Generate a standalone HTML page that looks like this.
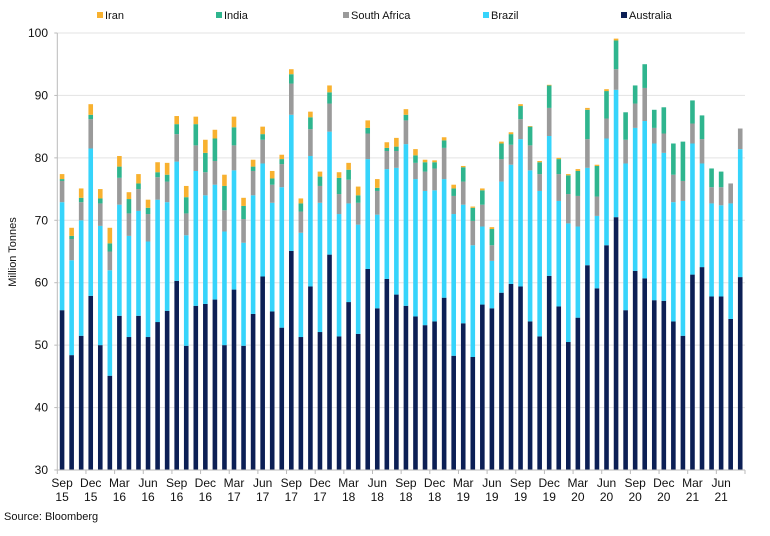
<!DOCTYPE html>
<html><head><meta charset="utf-8"><style>
body{margin:0;background:#fff;font-family:"Liberation Sans",Arial,sans-serif;}
svg text{font-family:"Liberation Sans",Arial,sans-serif;fill:#111;}
</style></head><body>
<svg id="chart" width="770" height="531" viewBox="0 0 770 531" xmlns="http://www.w3.org/2000/svg">
<g id="grid"></g>
<g id="bars"></g>
<g id="axes"></g>
<g id="legend"></g>
<text x="16" y="252" font-size="11" text-anchor="middle" transform="rotate(-90 16 252)">Million Tonnes</text>
<text x="4" y="520" font-size="11">Source: Bloomberg</text>
</svg>
<script>
const australia=[55.6,48.4,51.5,57.9,50.0,45.1,54.7,51.3,54.7,51.3,53.7,55.5,60.3,49.9,56.3,56.6,57.3,50.0,58.9,49.9,55.0,61.0,55.4,52.8,65.1,51.3,59.4,52.1,64.5,51.4,56.9,51.8,62.2,55.9,60.6,58.1,56.3,54.6,53.2,53.8,57.6,48.3,53.5,48.1,56.5,55.9,58.4,59.8,59.4,53.8,51.4,61.1,56.2,50.5,54.4,62.8,59.1,66.0,70.5,55.6,61.9,60.7,57.2,57.1,53.8,51.5,61.3,62.5,57.8,57.8,54.2,60.9];
const brazil=[17.3,15.2,18.5,23.6,19.1,16.9,17.8,16.2,16.8,15.3,19.6,17.4,19.1,17.7,21.6,17.4,18.4,18.2,19.1,16.5,19.0,18.1,17.4,22.5,21.8,16.7,20.9,20.7,19.7,19.6,15.8,17.5,17.6,15.0,17.6,20.3,25.9,22.0,21.5,21.0,19.0,22.7,19.0,17.9,12.5,7.6,17.8,19.1,23.6,24.2,23.3,22.4,16.9,19.0,14.6,15.6,11.6,17.1,20.4,23.5,22.9,25.2,25.1,23.7,19.1,21.6,21.0,16.6,14.9,14.6,18.5,20.5];
const southAfrica=[3.4,3.4,2.9,4.7,3.6,3.0,4.3,3.6,3.5,4.4,3.6,3.3,4.4,3.5,4.1,3.7,3.8,3.4,4.0,3.8,3.9,3.8,2.9,3.7,5.0,3.4,4.3,2.7,4.5,3.2,3.8,3.5,4.1,3.8,2.9,2.7,3.8,2.6,3.1,3.5,5.0,2.9,3.7,3.9,3.5,2.5,3.6,3.2,3.2,4.0,2.7,4.5,4.3,4.7,4.9,4.6,3.1,3.2,3.3,3.8,3.9,5.3,2.5,3.1,4.4,3.2,3.2,3.9,2.6,2.9,3.2,3.3];
const india=[0.3,0.5,0.7,0.7,0.8,1.3,1.8,2.3,0.9,1.0,0.8,1.1,1.6,2.6,3.4,3.1,3.6,3.9,2.9,2.1,0.7,0.9,1.0,0.8,1.5,1.3,1.9,1.5,1.8,2.6,1.6,1.2,0.9,0.5,0.5,0.7,0.9,1.2,1.5,1.0,1.2,1.2,2.3,2.1,2.3,2.6,2.5,1.7,2.1,3.0,1.9,3.6,2.4,3.0,4.0,4.7,4.9,4.4,4.6,4.4,2.9,3.8,2.9,4.2,5.0,6.3,3.7,3.8,3.0,2.5,0,0];
const iran=[0.8,1.3,1.5,1.7,1.5,2.5,1.7,1.1,1.5,1.3,1.6,1.9,1.3,1.8,1.2,2.1,1.4,1.8,1.7,1.3,1.1,1.2,1.2,0.7,0.8,0.8,0.9,0.8,1.1,0.9,1.1,1.4,1.2,1.4,0.9,1.4,0.9,1.0,0.4,0.3,0.5,0.6,0.2,0.2,0.3,0.3,0.3,0.3,0.3,0.1,0.2,0.1,0.2,0.2,0.3,0.3,0.2,0.3,0.3,0,0,0,0,0,0,0,0,0,0,0,0,0];
const tickLabelsY=[30,40,50,60,70,80,90,100];
const monthLabels=["Sep","Dec","Mar","Jun","Sep","Dec","Mar","Jun","Sep","Dec","Mar","Jun","Sep","Dec","Mar","Jun","Sep","Dec","Mar","Jun","Sep","Dec","Mar","Jun"];
const yearLabels=["15","15","16","16","16","16","17","17","17","17","18","18","18","18","19","19","19","19","20","20","20","20","21","21"];
const seriesNames=["Iran","India","South Africa","Brazil","Australia"];

const NS="http://www.w3.org/2000/svg";
const colors={"Australia":"#0c1f55","Brazil":"#36d4fb","South Africa":"#9a9a9a","India":"#2fb58e","Iran":"#f8b12f"};
const X0=57.3,X1=745,Y0=470,Y1=33,VMIN=30,VMAX=100;
const n=australia.length;
const step=(X1-X0)/n;
function xs(i){return X0+step*(i+0.5);}
function ys(v){return Y0-(v-VMIN)/(VMAX-VMIN)*(Y0-Y1);}
function mk(tag,attrs,parent){const e=document.createElementNS(NS,tag);for(const k in attrs)e.setAttribute(k,attrs[k]);parent.appendChild(e);return e;}

const grid=document.getElementById('grid'),axes=document.getElementById('axes'),bars=document.getElementById('bars'),legend=document.getElementById('legend');
tickLabelsY.forEach(v=>{
  if(v>VMIN){const g=mk('line',{x1:X0,x2:X1,y1:ys(v),y2:ys(v),stroke:'#e3e3e3','stroke-width':1},grid);
  
  }
  const t=mk('text',{x:48,y:ys(v)+4,'font-size':12,'text-anchor':'end'},axes);
  t.textContent=v;
  
  
  mk('line',{x1:X0-3,x2:X0,y1:ys(v),y2:ys(v),stroke:'#bbb'},axes);
});
const ya=mk('line',{x1:X0,x2:X0,y1:Y1,y2:Y0,stroke:'#bbb'},axes);


const xa=mk('line',{x1:X0,x2:X1,y1:Y0,y2:Y0,stroke:'#bbb'},axes);


for(let k=0;k<=n/3;k++){mk('line',{x1:X0+step*3*k,x2:X0+step*3*k,y1:Y0,y2:Y0+4,stroke:'#bbb'},axes);}
monthLabels.forEach((m,k)=>{
  const x=xs(k*3);
  const t=mk('text',{x:x,y:487,'font-size':12,'text-anchor':'middle'},axes);
  t.textContent=m;
  
  
  const t2=mk('text',{x:x,y:501,'font-size':12,'text-anchor':'middle'},axes);
  t2.textContent=yearLabels[k];
  
  
});
const order=[["Australia",australia],["Brazil",brazil],["South Africa",southAfrica],["India",india],["Iran",iran]];
const bw=4.6;
for(let i=0;i<n;i++){
  let base=0;
  order.forEach(([name,arr])=>{
    const v=arr[i];
    const top=base+v;
    if(v>0 && top>VMIN){
      const lo=Math.max(base,VMIN);
      const r=mk('rect',{x:xs(i)-bw/2,y:ys(top),width:bw,height:ys(lo)-ys(top),fill:colors[name]},bars);
      
      
    }
    base=top;
  });
}
const legX=[97,216,343,483,621];
seriesNames.forEach((s,k)=>{
  const r=mk('rect',{x:legX[k],y:12,width:6,height:6,fill:colors[s]},legend);
  
  
  const t=mk('text',{x:legX[k]+8,y:19,'font-size':11},legend);
  t.textContent=s;
  
  
});
</script>
</body></html>
